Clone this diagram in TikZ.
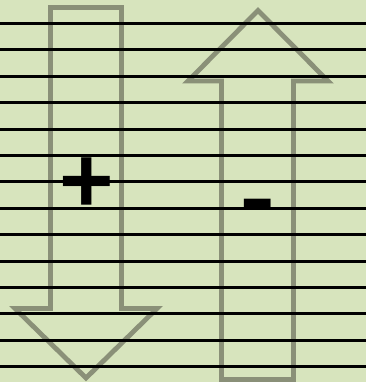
\documentclass[tikz,border=0pt]{standalone}
\usepackage{fontspec}
\setmainfont{Liberation Sans}
\usetikzlibrary{positioning}

\definecolor{paper}{RGB}{215,228,189}
\definecolor{outline}{RGB}{138,144,120}

\begin{document}
\begin{tikzpicture}[
    x=0.75pt, y=-0.75pt,
    rule/.style={line width=2.25pt, black},
    blockarrow/.style={draw=outline, line width=3.6pt, line join=miter},
    sign/.style={inner sep=0pt, font=\bfseries\fontsize{70}{70}\selectfont},
]

% ============================================================
% Background
% ============================================================
\fill[paper] (0,0) rectangle (366,382);
\useasboundingbox (0,0) rectangle (366,382);

% ============================================================
% Block arrows
% ============================================================

% down arrow (left)
\draw[blockarrow]
    (50.5,7.5) -- (121.5,7.5) -- (121.5,308.5) -- (157,308.5)
    -- (86,378) -- (15,308.5) -- (50.5,308.5) -- cycle;

% up arrow (right)
\draw[blockarrow]
    (221.5,379.5) -- (293.5,379.5) -- (293.5,81) -- (328,81)
    -- (258,10.5) -- (188,81) -- (221.5,81) -- cycle;

% ============================================================
% Ruled lines
% ============================================================
\foreach \k in {0,...,13}
    \draw[rule] (0,{23.5+26.4*\k}) -- (366,{23.5+26.4*\k});

% ============================================================
% Signs
% ============================================================
\node[sign] (plus) at (86.5,185.5) {+};
\node[sign, font=\fontsize{82}{82}\selectfont] (minus) at (258,215.5) {-};

\end{tikzpicture}
\end{document}
